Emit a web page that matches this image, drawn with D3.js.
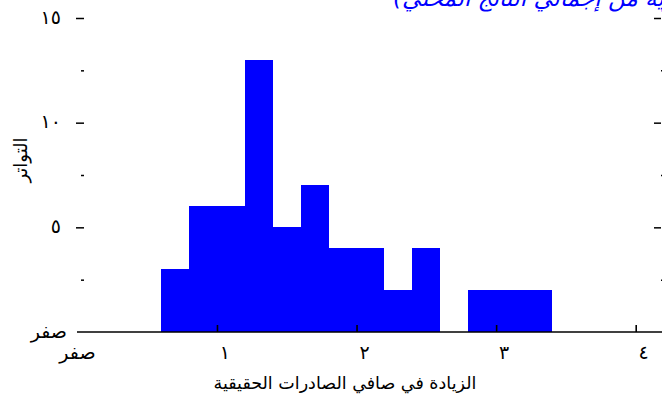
<!DOCTYPE html>
<html>
<head>
<meta charset="utf-8">
<script src="https://cdn.jsdelivr.net/npm/d3@7"></script>
<style>
  html, body { margin: 0; padding: 0; background: #fff; overflow: hidden; }
  svg { display: block; font-family: "DejaVu Sans", sans-serif; }
</style>
</head>
<body>
<svg id="chart" width="662" height="403"></svg>
<script>
// ---- data ----
const binStarts = [0.6, 0.8, 1.0, 1.2, 1.4, 1.6, 1.8, 2.0, 2.2, 2.4, 2.6, 2.8, 3.0, 3.2];
const binWidth = 0.2;
const counts    = [3,   6,   6,   13,  5,   7,   4,   4,   2,   4,   0,   2,   2,   2];
const xTicks = [0, 1, 2, 3, 4];
const xTickLabels = ["صفر", "١", "٢", "٣", "٤"];
const yTicks = [0, 5, 10, 15];
const yTickLabels = ["صفر", "٥", "١٠", "١٥"];
const yMinorTicks = [2.5, 7.5, 12.5];
const titleText = "الزيادة في صافي الصادرات الحقيقية (نسبة مئوية من إجمالي الناتج المحلي)";
const xLabel = "الزيادة في صافي الصادرات الحقيقية";
const yLabel = "التواتر";

// ---- layout ----
const svg = d3.select("#chart");
const x = d3.scaleLinear().domain([0, 4]).range([77.4, 635.7]);
const y = d3.scaleLinear().domain([0, 15]).range([332, 18]);
const leftAxisX = 84, rightAxisX = 654;

// bars
svg.append("g").attr("shape-rendering", "crispEdges").selectAll("rect")
  .data(binStarts.map((s, i) => ({ s, c: counts[i] })).filter(d => d.c > 0))
  .join("rect")
  .attr("x", d => Math.round(x(d.s)))
  .attr("width", d => Math.round(x(d.s + binWidth)) - Math.round(x(d.s)))
  .attr("y", d => y(d.c))
  .attr("height", d => y(0) - y(d.c))
  .attr("fill", "#0000ff");

// x axis baseline
svg.append("line")
  .attr("x1", 77).attr("x2", 662)
  .attr("y1", y(0)).attr("y2", y(0))
  .attr("stroke", "#000").attr("stroke-width", 1.6);

// x ticks (inward)
const xAxis = d3.axisBottom(x).tickValues(xTicks.slice(1)).tickSize(-7).tickFormat("");
const gx = svg.append("g").attr("transform", `translate(0,${y(0)})`).call(xAxis);
gx.select(".domain").remove();
gx.selectAll(".tick line").attr("stroke", "#000").attr("stroke-width", 1.6);

// x tick labels
svg.append("g").selectAll("text")
  .data(xTicks)
  .join("text")
  .attr("x", (d, i) => x(d) + (i === 0 ? 0 : 8))
  .attr("y", 359)
  .attr("text-anchor", "middle")
  .attr("font-size", 19)
  .attr("fill", "#000")
  .text((d, i) => xTickLabels[i]);

// y ticks left (outward) and right
function yTickAxis(gen, xpos, values, size) {
  const g = svg.append("g").attr("transform", `translate(${xpos},0)`)
    .call(gen(y).tickValues(values).tickSize(size).tickFormat(""));
  g.select(".domain").remove();
  g.selectAll(".tick line").attr("stroke", "#000").attr("stroke-width", 1.5);
  return g;
}
yTickAxis(d3.axisLeft, leftAxisX, yTicks.slice(1), 8);
yTickAxis(d3.axisLeft, leftAxisX, yMinorTicks, 3);
yTickAxis(d3.axisRight, rightAxisX, yTicks.slice(1), 7);
yTickAxis(d3.axisLeft, rightAxisX + 7, yMinorTicks, -3);

// y tick labels
svg.append("g").selectAll("text")
  .data(yTicks)
  .join("text")
  .attr("x", (d, i) => i === 0 ? 67 : 61)
  .attr("y", d => y(d))
  .attr("dy", "0.3em")
  .attr("text-anchor", "end")
  .attr("font-size", 19)
  .attr("fill", "#000")
  .text((d, i) => yTickLabels[i]);

// axis titles
svg.append("text")
  .attr("x", 345).attr("y", 389)
  .attr("text-anchor", "middle")
  .attr("font-size", 17.5)
  .attr("fill", "#000")
  .text(xLabel);

svg.append("text")
  .attr("transform", "translate(27,160) rotate(-90)")
  .attr("text-anchor", "middle")
  .attr("font-size", 18)
  .attr("fill", "#000")
  .text(yLabel);

// title (clipped by the window, as in the reference)
svg.append("text")
  .attr("x", 393).attr("y", 6)
  .attr("direction", "rtl")
  .attr("text-anchor", "end")
  .attr("font-size", 23)
  .attr("font-style", "italic")
  .attr("fill", "#0000ff")
  .text(titleText);
</script>
</body>
</html>
